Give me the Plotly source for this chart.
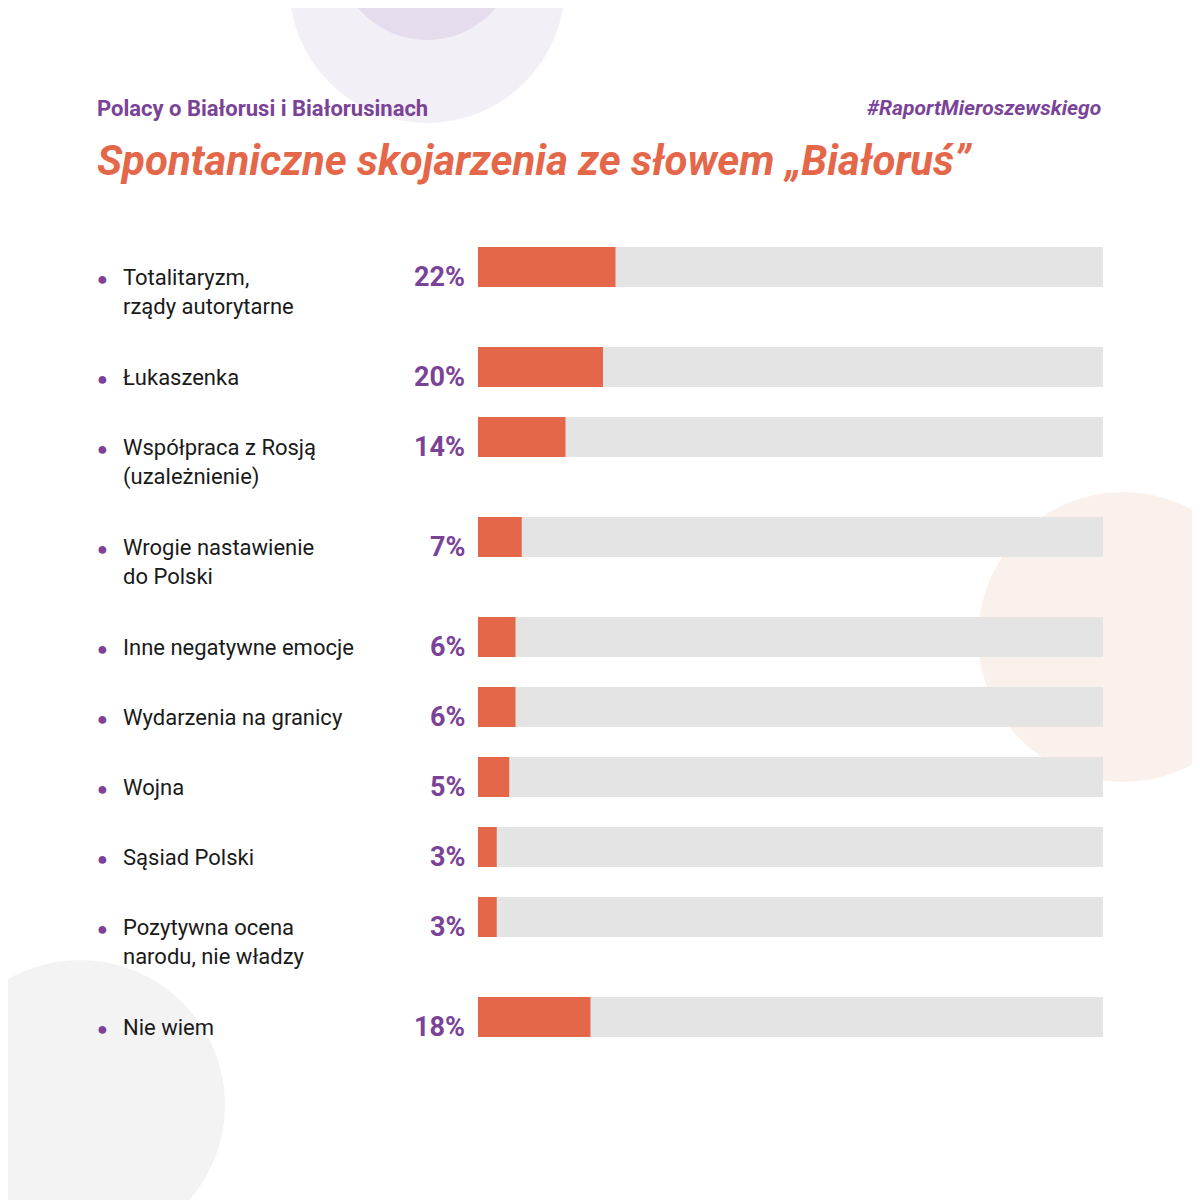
import plotly.graph_objects as go

categories = [
    "Totalitaryzm,<br>rządy autorytarne",
    "Łukaszenka",
    "Współpraca z Rosją<br>(uzależnienie)",
    "Wrogie nastawienie<br>do Polski",
    "Inne negatywne emocje",
    "Wydarzenia na granicy",
    "Wojna",
    "Sąsiad Polski",
    "Pozytywna ocena<br>narodu, nie władzy",
    "Nie wiem",
]
values = [22, 20, 14, 7, 6, 6, 5, 3, 3, 18]

PURPLE = "#7B4397"
ORANGE = "#E5674A"
TRACK = "#E4E4E4"
FONT = "Roboto"
W = H = 1200
OFF = 8  # page body margin shifts everything by 8px


def px(v):
    return (v - OFF) / W


def py(v):
    return 1 - (v - OFF) / H


# row centres in pixel units: two-line labels take more room
centres = []
y = 267 - OFF
for cat in categories:
    centres.append(y)
    y += 100 if "<br>" in cat else 70

fig = go.Figure()
fig.add_trace(go.Bar(
    x=[100] * len(values), y=centres, orientation="h", width=40,
    marker={"color": TRACK, "line": {"width": 0}}, hoverinfo="skip",
))
fig.add_trace(go.Bar(
    x=values, y=centres, orientation="h", width=40,
    marker={"color": ORANGE, "line": {"width": 0}},
))

annotations = []
for cat, val, c in zip(categories, values, centres):
    annotations.append(dict(
        x=px(121), xref="paper", y=c - 4, yref="y", text=cat, showarrow=False,
        xanchor="left", yanchor="top", align="left",
        font={"family": FONT, "size": 22, "color": "#1a1a1a"},
    ))
    annotations.append(dict(
        x=px(102), xref="paper", y=c + 11, yref="y", text="●", showarrow=False,
        xanchor="center", yanchor="middle", font={"size": 18, "color": PURPLE},
    ))
    annotations.append(dict(
        x=px(467), xref="paper", y=c + 10, yref="y", text=f"<b>{val}%</b>", showarrow=False,
        xanchor="right", yanchor="middle", font={"family": FONT, "size": 27, "color": PURPLE},
    ))

annotations += [
    dict(x=px(95), y=py(108), xref="paper", yref="paper", showarrow=False,
         text="<b>Polacy o Białorusi i Białorusinach</b>", xanchor="left", yanchor="middle",
         font={"family": FONT, "size": 22, "color": PURPLE}),
    dict(x=px(1103), y=py(108), xref="paper", yref="paper", showarrow=False,
         text="<b><i>#RaportMieroszewskiego</i></b>", xanchor="right", yanchor="middle",
         font={"family": FONT, "size": 21, "color": PURPLE}),
    dict(x=px(95), y=py(160), xref="paper", yref="paper", showarrow=False,
         text="<b><i>Spontaniczne skojarzenia ze słowem „Białoruś”</i></b>",
         xanchor="left", yanchor="middle",
         font={"family": FONT, "size": 42, "color": ORANGE}),
]


def circle(cx, cy, r, color):
    return dict(type="circle", xref="paper", yref="paper", layer="below",
                x0=px(cx - r), x1=px(cx + r), y0=py(cy + r), y1=py(cy - r),
                fillcolor=color, line={"width": 0})


shapes = [
    circle(427, -15, 138, "#F3EFF7"),
    circle(427, -50, 90, "#E5DCEE"),
    circle(1123, 637, 145, "#FBF1EC"),
    circle(80, 1105, 145, "#F3F3F3"),
]

fig.update_layout(
    width=W, height=H, margin={"l": 0, "r": 0, "t": 0, "b": 0},
    paper_bgcolor="white", plot_bgcolor="rgba(0,0,0,0)",
    barmode="overlay", showlegend=False,
    xaxis={"domain": [px(478), px(1103)], "range": [0, 100], "visible": False, "fixedrange": True},
    yaxis={"domain": [0, 1], "range": [H, 0], "visible": False, "fixedrange": True},
    annotations=annotations, shapes=shapes,
)

fig.write_html("out.html")
